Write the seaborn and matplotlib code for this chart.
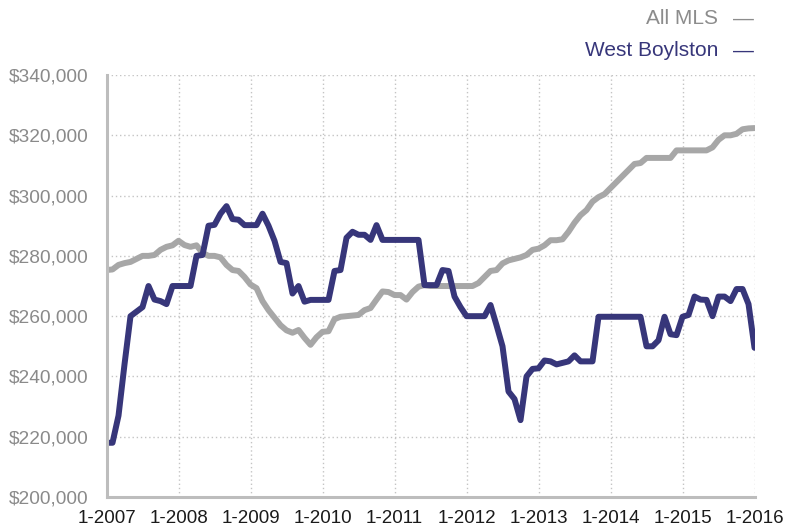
import numpy as np
import pandas as pd
import matplotlib
matplotlib.use("Agg")
import matplotlib.pyplot as plt
import seaborn as sns

# monthly median sale price, 1-2007 .. 1-2016 (values in $1000)
all_mls = [
    275.3, 275.5, 277, 277.6, 278, 279, 280, 280, 280.3, 282, 283, 283.5,
    285, 283.6, 283, 283.5, 281, 280, 280, 279.5, 277, 275.3, 275, 273,
    270.5, 269.3, 265, 262, 259.5, 257, 255.3, 254.5, 255.4, 252.8, 250.5, 253,
    254.8, 255, 259, 259.8, 260, 260.2, 260.4, 262, 262.7, 265.5, 268.2, 268,
    267, 267, 265.5, 268, 269.8, 270.3, 270, 270, 270, 270, 270, 270,
    270, 270, 271, 273, 275, 275.3, 277.5, 278.5, 279, 279.5, 280.3, 282,
    282.4, 283.5, 285.2, 285.2, 285.5, 288, 291, 293.5, 295.2, 298, 299.5, 300.5,
    302.5, 304.5, 306.5, 308.5, 310.5, 310.8, 312.5, 312.5, 312.5, 312.5, 312.5, 315,
    315, 315, 315, 315, 315, 316, 318.5, 320, 320, 320.5, 322, 322.3, 322.4,
]
west_boylston = [
    218, 218, 227, 244, 260, 261.5, 263, 270, 265.5, 265, 264, 270,
    270, 270, 270, 280, 280.3, 290, 290.3, 294, 296.5, 292.2, 292, 290.2,
    290.2, 290.2, 294, 290, 285, 278, 277.6, 267.5, 270, 264.8, 265.4, 265.4,
    265.4, 265.4, 275, 275.3, 286, 288, 287, 287, 285.3, 290.2, 285.3, 285.3,
    285.3, 285.3, 285.3, 285.3, 285.3, 270.3, 270.3, 270.3, 275.3, 275, 266.5, 263,
    260, 260, 260, 260, 263.7, 257, 250, 235, 232.5, 225.5, 240, 242.5,
    242.7, 245.3, 245, 244, 244.5, 245, 247, 245, 245, 245, 259.8, 259.8,
    259.8, 259.8, 259.8, 259.8, 259.8, 259.8, 250, 250, 252, 259.8, 254, 253.7,
    259.8, 260.4, 266.5, 265.5, 265.4, 260, 266.5, 266.5, 265, 269, 269, 264, 249.5,
]
years = list(range(2007, 2017))
tick_labels = [f"1-{y}" for y in years]
y_ticks = list(range(200000, 340001, 20000))

navy = "#37367a"
gray = "#a7a7a7"

months = np.arange(len(all_mls))
df = pd.DataFrame({
    "month": np.concatenate([months, months]),
    "price": np.array(all_mls + west_boylston) * 1000,
    "area": ["All MLS"] * len(all_mls) + ["West Boylston"] * len(west_boylston),
})

sns.set_style("white")
plt.rcParams["font.family"] = ["Liberation Sans", "DejaVu Sans"]

fig = plt.figure(figsize=(8.02, 5.31), dpi=100)
ax = fig.add_axes([0.1328, 0.064, 0.808, 0.7947])

sns.lineplot(data=df, x="month", y="price", hue="area",
             palette={"All MLS": gray, "West Boylston": navy},
             hue_order=["All MLS", "West Boylston"],
             linewidth=4.3, legend=False, ax=ax)

ax.set_xlim(0, 108)
ax.set_ylim(200000, 340000)
ax.set_xticks([12 * i for i in range(len(years))])
ax.set_xticklabels(tick_labels, fontsize=13.5, color="#1a1a1a")
ax.set_yticks(y_ticks)
ax.set_yticklabels([f"${v:,.0f}" for v in y_ticks], fontsize=13.8, color="#8a8a8a")
ax.set_xlabel("")
ax.set_ylabel("")

ax.grid(True, linestyle=(0, (1, 2)), color="#c4c4c4", linewidth=1)
ax.set_axisbelow(True)
for side in ["top", "right"]:
    ax.spines[side].set_visible(False)
for side in ["left", "bottom"]:
    ax.spines[side].set_color("#bdbdbd")
    ax.spines[side].set_linewidth(2.2)
ax.tick_params(axis="x", length=4, color="#bdbdbd", width=1.5, pad=5)
ax.tick_params(axis="y", length=0, pad=13)

# legend drawn as text, top right
fig.text(718 / 802, 1 - 19 / 531, "All MLS", ha="right", va="center",
         fontsize=15, color="#8c8c8c")
fig.text(743 / 802, 1 - 19 / 531, "—", ha="center", va="center",
         fontsize=15, color="#8c8c8c")
fig.text(718 / 802, 1 - 51 / 531, "West Boylston", ha="right", va="center",
         fontsize=15, color=navy)
fig.text(743 / 802, 1 - 51 / 531, "—", ha="center", va="center",
         fontsize=15, color=navy)

fig.savefig("out.png", dpi=100)
